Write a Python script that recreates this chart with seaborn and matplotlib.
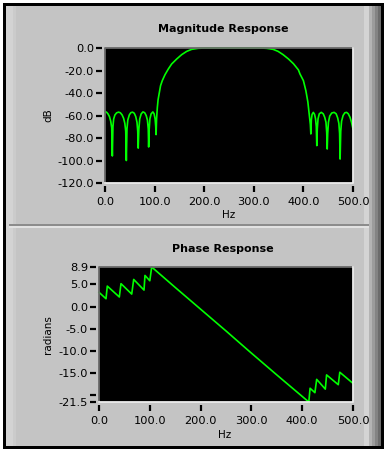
import matplotlib
matplotlib.use("Agg")
import matplotlib.pyplot as plt
from matplotlib.patches import Rectangle
from matplotlib.lines import Line2D
import seaborn as sns
import pandas as pd

# ---------------- data ----------------
mag_hz = [0, 3, 6, 9, 11.5, 13.5, 14.8,
          16, 17.5, 20, 23.5, 27.5, 31, 34.5, 37.5, 40, 41.8, 43,
          44.3, 46, 49, 52, 55.5, 59, 62, 64.5, 66, 67,
          68.3, 70, 73, 76.5, 80, 83, 85.5, 87.2, 88,
          89, 90.5, 93, 96.5, 99, 101, 102.3, 103,
          104, 105.5, 107, 109, 112, 115.5, 121, 127.6, 134.4, 144.5,
          154.6, 164.7, 174.8, 188, 200, 250, 315, 326, 339, 349, 359,
          370, 380, 390, 393, 400, 405, 409, 412, 414, 415,
          416, 417.5, 420, 422.5, 424.5, 426, 427,
          428, 429.5, 432, 436, 440, 443, 445.5, 447, 448,
          449, 450.5, 453, 457, 462, 466, 469, 471.5, 473, 474,
          475.3, 477, 480, 483.5, 487, 490.5, 494, 497, 500]
mag_db = [-56.6, -57, -58.5, -61, -65, -71, -96,
          -70, -63, -59.5, -57.6, -57, -57.6, -59.5, -62.5, -67, -74, -100,
          -72, -64, -59.5, -57.5, -57, -58, -61, -66, -74, -89,
          -72, -63, -58.5, -56.8, -57.5, -60, -64, -72, -88,
          -73, -63, -58.5, -56.8, -58.5, -63, -70, -77,
          -63, -53, -46, -41, -33.5, -29, -23.7, -18.7, -14.2, -9.8,
          -5.9, -3, -1.2, -0.3, 0, 0, 0, -0.3, -1.2, -3, -5.9,
          -9.8, -14, -19.5, -23, -29, -38, -48, -60, -68, -76.4,
          -64, -59, -57.2, -59, -63, -70, -86.8,
          -72, -63, -58.5, -57.2, -58.5, -61.6, -66, -75, -89.8,
          -76, -66, -60.5, -57.8, -57.2, -58.5, -62, -67, -76, -98.7,
          -74, -65, -60, -57.6, -57.2, -58.5, -61.6, -66, -72]

phase_hz = [0, 13.8, 16.3, 40.0, 43.3, 64.4, 68.3, 88.6, 90.5, 100.0, 103.7,
            150, 200, 250, 297, 350, 413,
            415.5, 425, 428.5, 445.5, 448, 471, 474, 500]
phase_rad = [3.2, 1.75, 4.6, 2.15, 5.15, 2.8, 6.1, 3.7, 7.0, 5.8, 8.9,
             4.3, -0.6, -5.5, -10.2, -15.4, -21.5,
             -18.4, -19.4, -16.4, -18.6, -15.4, -17.6, -14.8, -17.3]

x_ticks = [0, 100, 200, 300, 400, 500]
mag_ticks = [0, -20, -40, -60, -80, -100, -120]
phase_ticks = [8.9, 5.0, 0.0, -5.0, -10.0, -15.0, -20.0, -21.5]
phase_labels = ["8.9", "5.0", "0.0", "-5.0", "-10.0", "-15.0", "", "-21.5"]

# ---------------- figure ----------------
W, H = 387, 453
fig = plt.figure(figsize=(W / 100, H / 100), dpi=100)
fig.patch.set_facecolor("white")

PANEL = "#c4c4c4"


def rect(x0, y0, x1, y1, color, z=0):
    fig.add_artist(Rectangle((x0 / W, 1 - y1 / H), (x1 - x0) / W, (y1 - y0) / H,
                             transform=fig.transFigure, facecolor=color,
                             edgecolor="none", zorder=z))


rect(3, 3, 384, 449, "black", -10)
rect(6, 6, 381, 446, PANEL, -9)
rect(6, 6, 13, 446, "#d3d3d3", -8)
rect(13, 6, 16, 446, "#cbcbcb", -8)
rect(364, 6, 369, 446, "#d4d4d4", -8)
rect(369, 6, 372, 446, "#b4b4b4", -8)
rect(372, 6, 375, 446, "#9c9c9c", -8)
rect(375, 6, 378, 446, "#848484", -8)
rect(378, 6, 381, 446, "#6c6c6c", -8)
rect(9, 223.5, 369, 226, "#8c8c8c", -7)
rect(9, 226, 369, 228, "#e2e2e2", -7)

GREEN = "#00ff00"


def style_axes(ax, xlim, ylim, yticks, ylabels):
    ax.set_facecolor("black")
    ax.set_xlim(*xlim)
    ax.set_ylim(*ylim)
    for s in ["left", "bottom"]:
        ax.spines[s].set_position(("outward", 2.5))
    for s in ax.spines.values():
        s.set_visible(False)
    ax.set_xticks(x_ticks)
    ax.set_xticklabels([f"{v:.1f}" for v in x_ticks])
    ax.set_yticks(yticks)
    ax.set_yticklabels(ylabels)
    ax.tick_params(axis="both", direction="out", length=4, width=1.6,
                   color="black", labelsize=8.2, labelcolor="black")
    ax.tick_params(axis="y", pad=1.5)
    ax.tick_params(axis="x", pad=3.5)
    ax.set_xlabel("")
    ax.set_ylabel("")
    ax.grid(False)
    # inset frame
    ax.add_line(Line2D([0, 0, 1], [0, 1, 1], transform=ax.transAxes,
                       color="#6a6a6a", lw=1.3, clip_on=False, zorder=5))
    ax.add_line(Line2D([0, 1, 1], [0, 0, 1], transform=ax.transAxes,
                       color="#ececec", lw=1.3, clip_on=False, zorder=5))


# magnitude
ax1 = fig.add_axes([105 / W, 1 - 183 / H, 248 / W, 135 / H])
df1 = pd.DataFrame({"Hz": mag_hz, "dB": mag_db})
sns.lineplot(data=df1, x="Hz", y="dB", ax=ax1, color=GREEN, lw=1.2,
             estimator=None, sort=False, clip_on=False)
style_axes(ax1, (0, 500), (-120, 0), mag_ticks, [f"{v:.1f}" for v in mag_ticks])

# phase
ax2 = fig.add_axes([99 / W, 1 - 402 / H, 254 / W, 135 / H])
df2 = pd.DataFrame({"Hz": phase_hz, "radians": phase_rad})
sns.lineplot(data=df2, x="Hz", y="radians", ax=ax2, color=GREEN, lw=1.2,
             estimator=None, sort=False, clip_on=False)
style_axes(ax2, (0, 500), (-21.5, 8.9), phase_ticks, phase_labels)

# texts
fig.text(223.5 / W, 1 - 28.5 / H, "Magnitude Response", ha="center", va="center",
         fontsize=8, fontweight="bold")
fig.text(223 / W, 1 - 248.5 / H, "Phase Response", ha="center", va="center",
         fontsize=8, fontweight="bold")
fig.text(48 / W, 1 - 115.5 / H, "dB", rotation=90, ha="center", va="center", fontsize=7.5)
fig.text(229 / W, 1 - 215 / H, "Hz", ha="center", va="center", fontsize=7.5)
fig.text(48 / W, 1 - 335 / H, "radians", rotation=90, ha="center", va="center", fontsize=7.5)
fig.text(225 / W, 1 - 435 / H, "Hz", ha="center", va="center", fontsize=7.5)

fig.savefig("out.png", dpi=100)
